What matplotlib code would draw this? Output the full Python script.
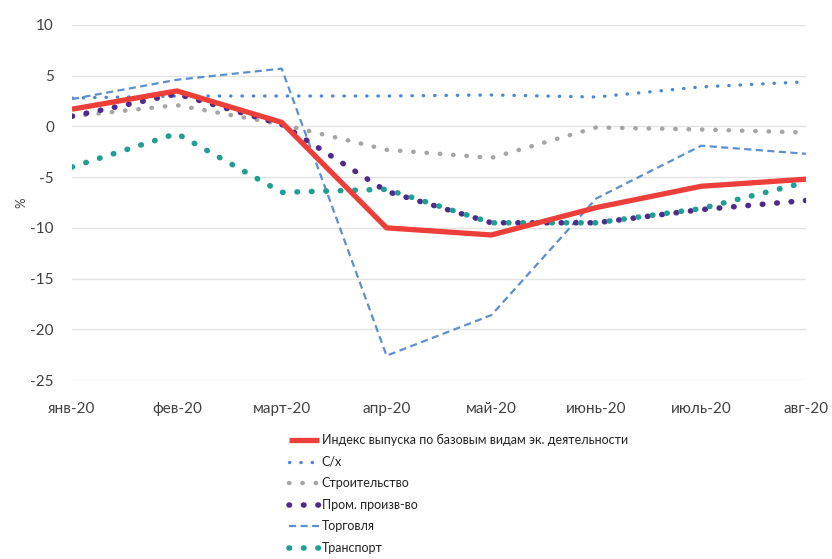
import matplotlib
matplotlib.use("Agg")
import matplotlib.pyplot as plt

months = ["янв-20", "фев-20", "март-20", "апр-20", "май-20", "июнь-20", "июль-20", "авг-20"]
index_output = [1.7, 3.5, 0.4, -10.0, -10.7, -8.0, -5.9, -5.2]
agri = [2.8, 3.0, 3.0, 3.0, 3.1, 2.9, 3.9, 4.4]
construction = [1.0, 2.1, 0.2, -2.3, -3.1, -0.1, -0.3, -0.6]
industry = [1.0, 3.2, 0.2, -6.4, -9.5, -9.5, -8.2, -7.3]
trade = [2.7, 4.6, 5.7, -22.6, -18.6, -7.1, -1.9, -2.7]
transport = [-4.0, -0.7, -6.5, -6.2, -9.5, -9.5, -8.1, -5.5]
yticks = [10, 5, 0, -5, -10, -15, -20, -25]
labels = ["Индекс выпуска по базовым видам эк. деятельности", "С/х", "Строительство",
          "Пром. произв-во", "Торговля", "Транспорт"]

plt.rcParams['font.family'] = ['Lato', 'DejaVu Sans']

fig = plt.figure(figsize=(8.32, 5.59), dpi=100)
ax = fig.add_axes([72/832, 1-380/559, (806-72)/832, (380-25)/559])
x = list(range(len(months)))

ax.plot(x, index_output, color="#ec3f3a", lw=3.8, solid_capstyle="butt", label=labels[0], zorder=5)
ax.plot(x, agri, color="#4a86d8", lw=2.4, linestyle=(0, (0.1, 3.3)), dash_capstyle="round", label=labels[1], zorder=3)
ax.plot(x, construction, color="#a5a5a5", lw=3.2, linestyle=(0, (0.1, 2.9)), dash_capstyle="round", label=labels[2], zorder=3)
ax.plot(x, industry, color="#4e2a8c", lw=4.0, linestyle=(0, (0.1, 2.5)), dash_capstyle="round", label=labels[3], zorder=4)
ax.plot(x, trade, color="#5b8fd0", lw=1.6, linestyle=(0, (3.2, 2.0)), label=labels[4], zorder=3)
ax.plot(x, transport, color="#1f9e95", lw=4.0, linestyle=(0, (0.1, 2.5)), dash_capstyle="round", label=labels[5], zorder=4)

ax.set_xlim(0, len(months) - 1)
ax.set_ylim(-25, 10)
ax.set_yticks(yticks)
ax.set_yticklabels([str(v) for v in yticks])
ax.set_xticks(x)
ax.set_xticklabels(months)
ax.grid(axis="y", color="#e3e3e3", lw=1)
ax.set_axisbelow(True)
for s in ax.spines.values():
    s.set_visible(False)
ax.tick_params(axis="both", length=0, labelsize=11, colors="#404040")
ax.tick_params(axis="y", pad=13)
ax.tick_params(axis="x", pad=16)
ax.set_ylabel("%", fontsize=9.5, color="#404040", labelpad=2)

fig.legend(loc="upper left", bbox_to_anchor=(283/832, 1-428/559), frameon=False,
           fontsize=9, handlelength=2.4, handletextpad=0.2, labelspacing=0.76,
           borderpad=0, labelcolor="#222222")

fig.savefig("out.png", dpi=100, facecolor="white")
